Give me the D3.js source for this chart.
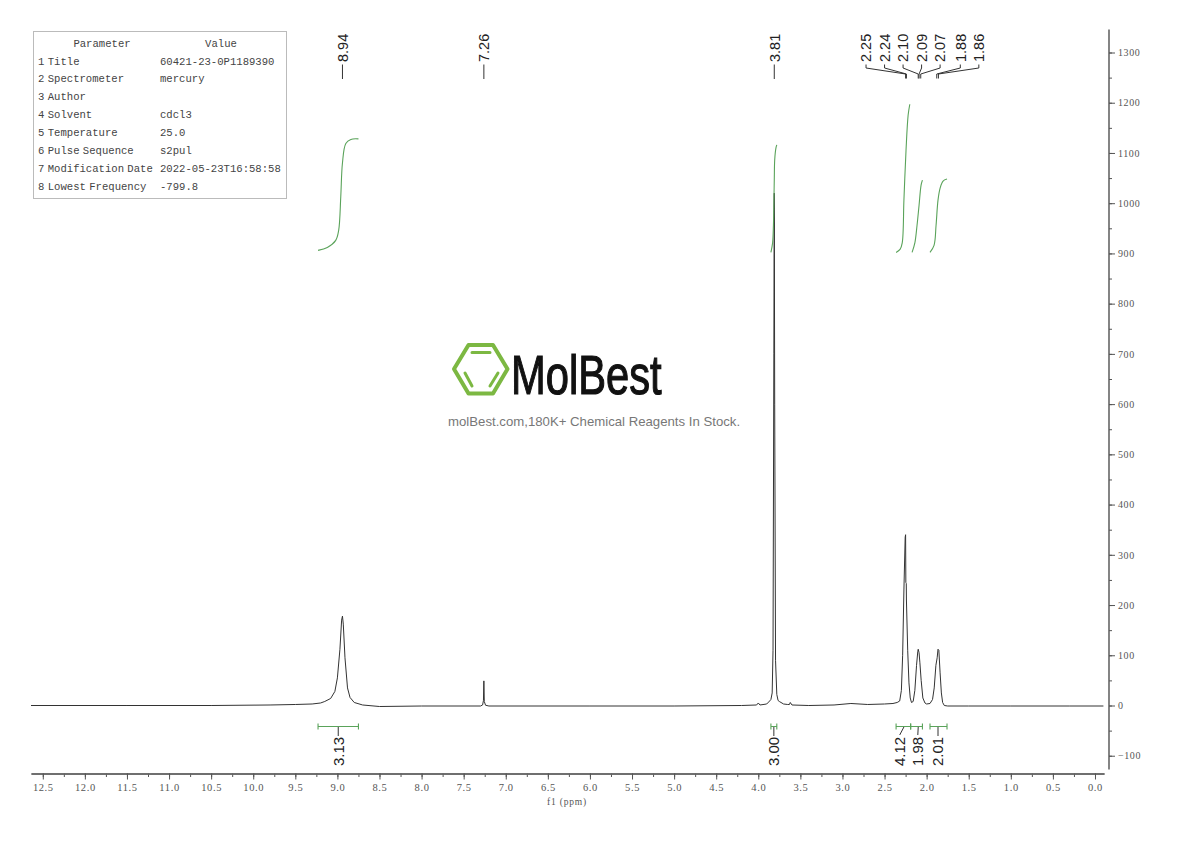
<!DOCTYPE html>
<html>
<head>
<meta charset="utf-8">
<script src="https://cdn.jsdelivr.net/npm/d3@7"></script>
<style>
  html, body { margin: 0; padding: 0; background: #fff; }
  svg { display: block; }
</style>
</head>
<body>
<div id="chart"></div>
<script>
// spectrum
var specPpm = [12.64, 11.5, 10.5, 9.8, 9.5, 9.3, 9.2, 9.15, 9.08, 9.03, 9.0, 8.97, 8.95, 8.94, 8.93, 8.91, 8.88, 8.85, 8.8, 8.7, 8.5, 8.0,
  7.3, 7.275, 7.265, 7.26, 7.255, 7.24, 7.2, 6.0, 5.0, 4.2, 4.02, 4.0, 3.98, 3.9, 3.865, 3.85, 3.835, 3.825, 3.815, 3.81, 3.805, 3.795, 3.78, 3.765, 3.75, 3.7, 3.65, 3.63, 3.62, 3.6, 3.4, 3.1,
  2.9, 2.7, 2.5, 2.4, 2.35, 2.32, 2.3, 2.285, 2.27, 2.255, 2.25, 2.247, 2.242, 2.24, 2.225, 2.21, 2.195, 2.18, 2.16, 2.14, 2.12, 2.105, 2.1, 2.09, 2.08, 2.065, 2.045, 2.02, 2.0, 1.96, 1.93, 1.91, 1.89, 1.875, 1.865, 1.855, 1.84, 1.825, 1.81, 1.79, 1.75, 1.5, 1.0, 0.3, -0.1];
var specVal = [0, 0, 0, 1, 2, 3, 5, 8, 14, 28, 55, 112, 170, 178, 162, 95, 35, 16, 6, 1, -2, -1,
  -1, 1, 10, 49, 8, 0.5, -1, -1, -1, 0, 1, 5, 1, 3, 9, 12, 25, 110, 700, 1020, 600, 90, 22, 10, 8, 3, 2, 2, 6, 1, 0, 1,
  4, 2, 3, 4, 6, 9, 30, 100, 230, 335, 340, 245, 243, 210, 110, 45, 15, 6, 8, 30, 80, 108, 112, 105, 85, 50, 15, 5, 3, 4, 12, 35, 80, 95, 112, 110, 65, 25, 6, 0, -1, -1, -1, -1, -1];

// integral curves, same y units as the spectrum
var int1Ppm = [9.23, 9.12, 9.02, 8.985, 8.96, 8.94, 8.9, 8.84, 8.75];
var int1Val = [906, 912, 926, 946, 1013, 1080, 1119, 1127, 1128];
var int2Ppm = [3.85, 3.83, 3.82, 3.81, 3.805, 3.79, 3.78];
var int2Val = [902, 921, 956, 1046, 1086, 1110, 1116];
var int3Ppm = [2.363, 2.316, 2.29, 2.27, 2.245, 2.22, 2.2];
var int3Val = [902, 908, 921, 1006, 1105, 1175, 1197];
var int4Ppm = [2.173, 2.14, 2.114, 2.09, 2.066, 2.05];
var int4Val = [902, 921, 956, 996, 1036, 1046];
var int5Ppm = [1.96, 1.912, 1.888, 1.865, 1.84, 1.805, 1.758];
var int5Val = [902, 916, 956, 1006, 1030, 1044, 1048];

// peak picks: label, peak position, where the label sits
var peakLabels = ['8.94', '7.26', '3.81', '2.25', '2.24', '2.10', '2.09', '2.07', '1.88', '1.86'];
var peakPpm = [8.94, 7.26, 3.81, 2.25, 2.24, 2.10, 2.09, 2.07, 1.88, 1.86];
var peakLabelPpm = [8.94, 7.26, 3.81, 2.72, 2.5, 2.28, 2.06, 1.84, 1.6, 1.38];

// integration regions
var regionLabels = ['3.13', '3.00', '4.12', '1.98', '2.01'];
var regionFrom = [9.23, 3.85, 2.363, 2.19, 1.96];
var regionTo = [8.75, 3.78, 2.19, 2.05, 1.758];
var regionMark = [8.99, 3.815, 2.27, 2.1, 1.865];
var regionLabelPpm = [8.99, 3.815, 2.32, 2.105, 1.865];

var tableNames = ['1 Title', '2 Spectrometer', '3 Author', '4 Solvent', '5 Temperature', '6 Pulse Sequence', '7 Modification Date', '8 Lowest Frequency'];
var tableValues = ['60421-23-0P1189390', 'mercury', '', 'cdcl3', '25.0', 's2pul', '2022-05-23T16:58:58', '-799.8'];

var xMajor = d3.range(0, 26).map(function(i){ return i * 0.5; });
var xMinor = d3.range(0, 51).map(function(i){ return i * 0.25; });
var yMajor = d3.range(-1, 14).map(function(i){ return i * 100; });
var yMinor = d3.range(-2, 27).map(function(i){ return i * 50; });

var serif = '"Liberation Serif", serif';
var mono = '"Liberation Mono", monospace';
var sans = '"Liberation Sans", Arial, sans-serif';
var green = '#5aa35a';
var dark = '#333';

var svg = d3.select('#chart').append('svg').attr('width', 1190).attr('height', 841);

var x = d3.scaleLinear().domain([12.64, -0.107]).range([31, 1104]);
var y = d3.scaleLinear().domain([0, 1300]).range([705.5, 52.5]);

function styleAxis(g, size) {
  g.select('.domain').attr('stroke', '#666').attr('stroke-width', 1.4);
  g.selectAll('.tick line').attr('stroke', '#555');
  g.selectAll('text').attr('fill', '#555').attr('font-family', serif).attr('font-size', size).style('letter-spacing', '0.6px');
}

// bottom axis
svg.append('g').attr('transform', 'translate(0,773.5)')
  .call(d3.axisBottom(x).tickValues(xMinor).tickSize(3.5).tickFormat('').tickSizeOuter(0))
  .call(styleAxis, 10);
svg.append('g').attr('transform', 'translate(0,773.5)')
  .call(d3.axisBottom(x).tickValues(xMajor).tickSize(6).tickPadding(4).tickFormat(d3.format('.1f')).tickSizeOuter(0))
  .call(styleAxis, 10.5);

svg.append('text').attr('x', 567).attr('y', 805).attr('text-anchor', 'middle')
  .attr('font-family', serif).attr('font-size', 9.5).attr('fill', '#555').style('letter-spacing', '0.8px')
  .text('f1 (ppm)');

// right axis
var yAxisGroup = svg.append('g').attr('transform', 'translate(1109,0)');
yAxisGroup.append('line').attr('y1', 29.5).attr('y2', 769.5).attr('stroke', '#666').attr('stroke-width', 1.6);
yAxisGroup.append('g')
  .call(d3.axisRight(y).tickValues(yMinor).tickSize(3).tickFormat('').tickSizeOuter(0))
  .call(function(g){ g.select('.domain').remove(); g.selectAll('.tick line').attr('stroke', '#555'); });
yAxisGroup.append('g')
  .call(d3.axisRight(y).tickValues(yMajor).tickSize(6).tickPadding(3).tickFormat(d3.format('d')).tickSizeOuter(0))
  .call(styleAxis, 10)
  .call(function(g){ g.select('.domain').remove(); });

// spectrum
var line = d3.line()
  .x(function(d){ return x(d[0]); })
  .y(function(d){ return y(d[1]); });

svg.append('path').datum(d3.zip(specPpm, specVal))
  .attr('d', line).attr('fill', 'none').attr('stroke', dark).attr('stroke-width', 1);

// integrals
var intLine = d3.line()
  .x(function(d){ return x(d[0]); })
  .y(function(d){ return y(d[1]); })
  .curve(d3.curveCatmullRom);

[[int1Ppm, int1Val], [int2Ppm, int2Val], [int3Ppm, int3Val], [int4Ppm, int4Val], [int5Ppm, int5Val]].forEach(function(c){
  svg.append('path').datum(d3.zip(c[0], c[1]))
    .attr('d', intLine)
    .attr('fill', 'none').attr('stroke', green).attr('stroke-width', 1.1);
});

// peak labels on top
peakLabels.forEach(function(t, i){
  var lx = x(peakLabelPpm[i]), px = x(peakPpm[i]);
  var g = svg.append('g');
  g.append('text')
    .attr('transform', 'translate(' + lx + ',62) rotate(-90)')
    .attr('dy', '0.36em')
    .attr('font-family', sans).attr('font-size', 14.5).attr('fill', '#222')
    .text(t);
  var pts = lx === px
    ? [[lx, 64.5], [lx, 79]]
    : [[lx, 64.5], [lx, 68], [px, 74], [px, 78.5]];
  g.append('path').attr('d', d3.line()(pts)).attr('fill', 'none').attr('stroke', '#333').attr('stroke-width', 1);
});

// integration brackets below
regionLabels.forEach(function(t, i){
  var a = x(regionFrom[i]), b = x(regionTo[i]), m = x(regionMark[i]), lx = x(regionLabelPpm[i]);
  var g = svg.append('g');
  g.append('path')
    .attr('d', 'M' + a + ',723.5V729.5M' + a + ',726.5H' + b + 'M' + b + ',723.5V729.5')
    .attr('fill', 'none').attr('stroke', green).attr('stroke-width', 1.1);
  g.append('path')
    .attr('d', d3.line()(m === lx ? [[m, 727], [m, 736]] : [[m, 727], [lx, 735]]))
    .attr('fill', 'none').attr('stroke', '#333').attr('stroke-width', 1);
  g.append('text')
    .attr('transform', 'translate(' + lx + ',766) rotate(-90)')
    .attr('dy', '0.36em')
    .attr('font-family', sans).attr('font-size', 15).attr('fill', '#222')
    .text(t);
});

// parameter table
var table = svg.append('g').attr('font-family', mono).attr('font-size', 10.6).attr('fill', '#444');
table.append('rect').attr('x', 33.5).attr('y', 31.5).attr('width', 253).attr('height', 167)
  .attr('fill', '#fff').attr('stroke', '#bbb');
table.append('text').attr('x', 102).attr('y', 46.5).attr('text-anchor', 'middle').text('Parameter');
table.append('text').attr('x', 221).attr('y', 46.5).attr('text-anchor', 'middle').text('Value');
tableNames.forEach(function(n, i){
  var ty = 64.5 + i * 17.9;
  table.append('text').attr('x', 38).attr('y', ty).style('word-spacing', '-3px').text(n);
  table.append('text').attr('x', 160).attr('y', ty).text(tableValues[i]);
});

// logo
var logo = svg.append('g');
logo.append('path').attr('d', 'M454,369L468.5,345H493L507.5,369L493,393.5H468.5Z')
  .attr('fill', 'none').attr('stroke', '#7cb842').attr('stroke-width', 4).attr('stroke-linejoin', 'round');
logo.append('path').attr('d', 'M472,352.5H490M465,373L472,386M498,373L490,386')
  .attr('fill', 'none').attr('stroke', '#7cb842').attr('stroke-width', 3).attr('stroke-linecap', 'round');
logo.append('text').attr('transform', 'translate(511,394) scale(0.745,1)')
  .attr('font-family', sans).attr('font-size', 56).attr('fill', '#111')
  .attr('stroke', '#111').attr('stroke-width', 1.2)
  .text('MolBest');
logo.append('text').attr('x', 448).attr('y', 426)
  .attr('font-family', sans).attr('font-size', 13.2).attr('fill', '#777')
  .text('molBest.com,180K+ Chemical Reagents In Stock.');
</script>
</body>
</html>
